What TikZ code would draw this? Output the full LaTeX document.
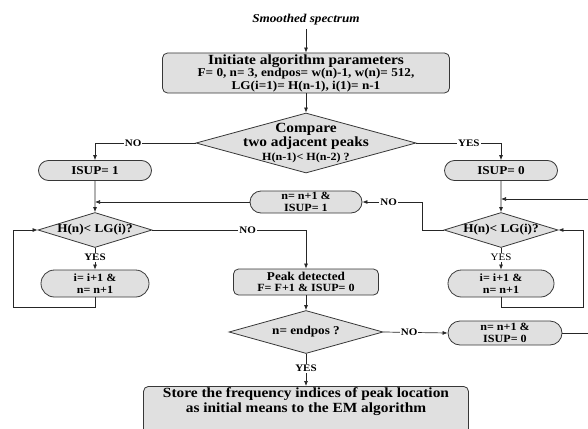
\documentclass[tikz,border=0pt]{standalone}
\usepackage{fontspec}
\setmainfont{Liberation Serif}[FakeStretch=1.1]
\usetikzlibrary{shapes.geometric,shapes.misc,arrows.meta}

\begin{document}
\begin{tikzpicture}[x=1pt,y=-1pt]
    %%init
    %字号
    \newcommand{\fbig}{\fontsize{14}{14}\selectfont\bfseries}
    \newcommand{\fmid}{\fontsize{12}{12.5}\selectfont\bfseries}
    \newcommand{\fsml}{\fontsize{11}{11.5}\selectfont\bfseries}
    \newcommand{\flab}{\fontsize{10}{10}\selectfont\bfseries}
    %三列的x坐标
    \newcommand{\xl}{95}
    \newcommand{\xm}{306}
    \newcommand{\xr}{501}

    %%颜色及样式
    \definecolor{box_fill}{RGB}{224,224,224}
    \definecolor{box_draw}{RGB}{55,55,55}
    \tikzset{box/.style = {draw=box_draw, fill=box_fill, line width=.8pt, rounded corners=5pt, align=center, inner sep=1pt}}
    \tikzset{pill/.style = {rounded rectangle, draw=box_draw, fill=box_fill, line width=.8pt, align=center, inner sep=1pt}}
    \tikzset{dia/.style = {diamond, draw=box_draw, fill=box_fill, line width=.8pt, inner sep=0pt}}
    \tikzset{line/.style = {line width=.7pt, draw=black!85}}
    \tikzset{arr/.style = {line, -{Latex[length=5pt,width=4pt]}}}
    \tikzset{tag/.style = {fill=white, inner sep=1pt, font=\flab}}

    \clip (0,0) rectangle (588,428);

    %%框
    \node[font=\fontsize{12}{12}\selectfont\bfseries\itshape] (src) at (\xm,20) {Smoothed spectrum};
    \node[box, minimum width=287pt, minimum height=40pt, font=\fmid] (init) at (\xm,73)
        {{\fbig Initiate algorithm parameters}\\F= 0, n= 3, endpos= w(n)-1, w(n)= 512,\\LG(i=1)= H(n-1), i(1)= n-1};
    \node[dia, minimum width=220pt, minimum height=60pt] (cmp) at (\xm,143) {};
    \node[align=center, inner sep=0pt, font=\fbig] at (cmp)
        {Compare\\two adjacent peaks\\{\fontsize{11}{11}\selectfont H(n-1)< H(n-2) ?}};
    \node[pill, minimum width=115pt, minimum height=20pt, font=\fmid] (isup1) at (\xl,170.5) {ISUP= 1};
    \node[pill, minimum width=115pt, minimum height=20pt, font=\fmid] (isup0) at (\xr,170.5) {ISUP= 0};
    \node[pill, minimum width=114pt, minimum height=22pt, font=\fsml] (incA) at (\xm,202) {n= n+1 \&\\ISUP= 1};
    %左右两个判断
    \node[dia, minimum width=114pt, minimum height=35pt] (chkL) at (\xl,230) {};
    \node[font=\fmid] at (chkL) {H(n)< LG(i)?};
    \node[dia, minimum width=114pt, minimum height=35pt] (chkR) at (\xr,230) {};
    \node[font=\fmid] at (chkR) {H(n)< LG(i)?};
    \node[pill, minimum width=110pt, minimum height=27pt, font=\fsml] (incL) at (\xl,283.5) {i= i+1 \&\\n= n+1};
    \node[pill, minimum width=108pt, minimum height=27pt, font=\fsml] (incR) at (\xr,283.5) {i= i+1 \&\\n= n+1};
    \node[box, minimum width=145pt, minimum height=26pt, font=\fsml] (peak) at (\xm,282) {{\fmid Peak detected}\\F= F+1 \& ISUP= 0};
    \node[dia, minimum width=154pt, minimum height=43pt] (end) at (\xm,332) {};
    \node[font=\fmid] at (end) {n= endpos ?};
    \node[pill, minimum width=116pt, minimum height=24pt, font=\fsml] (incB) at (505,333) {n= n+1 \&\\ISUP= 0};
    \node[box, anchor=north, minimum width=325pt, font=\fontsize{14}{15.5}\selectfont\bfseries] (store) at (\xm,386)
        {Store the frequency indices of peak location\\as initial means to the EM algorithm\\ \strut};

    %%辅助坐标
    \coordinate (jL) at (\xl,202);
    \coordinate (jR) at (\xr,199);
    \coordinate (kR) at (422,230);
    \coordinate (lpL) at (13,307);
    \coordinate (lpR) at (583,307);
    \coordinate (edgeB) at (600,333);

    %%连线
    \draw[arr] (src) -- (init);
    \draw[arr] (init) -- (cmp);
    \draw[arr] (cmp.west) -| node[tag, pos=.31] {NO} (isup1.north);
    \draw[arr] (cmp.east) -| node[tag, pos=.31] {YES} (isup0.north);
    \draw[arr] (isup1) -- (chkL);
    \draw[arr] (isup0) -- (chkR);
    \draw[arr] (incA) -- (jL);
    \draw[arr] (chkR.west) -- (kR) |- node[tag, pos=.78] {NO} (incA.east);
    \draw[arr] (chkL.east) -| node[tag, pos=.31] {NO} (peak.north);
    \draw[arr] (chkL.south) -- node[tag, pos=.45] {YES} (incL.north);
    \draw[arr] (chkR.south) -- node[tag, pos=.45, font=\fontsize{10}{10}\selectfont] {YES} (incR.north);
    \draw[arr] (incL.south) |- (lpL) |- (chkL.west);
    \draw[arr] (incR.south) |- (lpR) |- (chkR.east);
    \draw[arr] (peak) -- (end);
    \draw[arr] (end.east) -- node[tag, pos=.4] {NO} (incB.west);
    \draw[arr] (end.south) -- node[tag, pos=.45] {YES} (store.north);
    \draw[arr] (incB.east) -- (edgeB) |- (jR);
\end{tikzpicture}
\end{document}
